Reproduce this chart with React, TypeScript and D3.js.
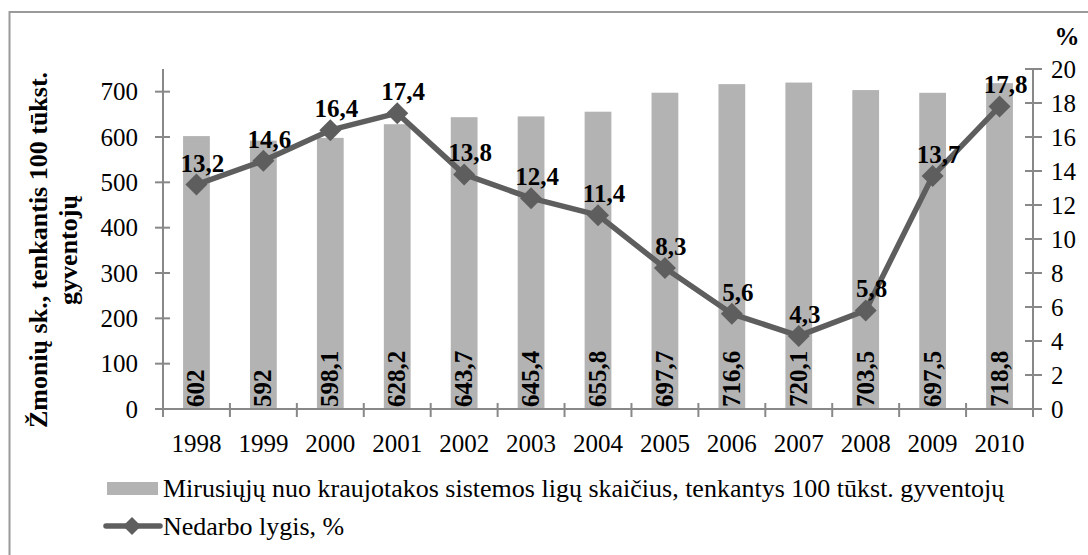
import React from "react";
import * as d3 from "d3";

const years = ["1998","1999","2000","2001","2002","2003","2004","2005","2006","2007","2008","2009","2010"];
const deaths = [602, 592, 598.1, 628.2, 643.7, 645.4, 655.8, 697.7, 716.6, 720.1, 703.5, 697.5, 718.8];
const unemployment = [13.2, 14.6, 16.4, 17.4, 13.8, 12.4, 11.4, 8.3, 5.6, 4.3, 5.8, 13.7, 17.8];
const leftTicks = [0, 100, 200, 300, 400, 500, 600, 700];
const rightTicks = [0, 2, 4, 6, 8, 10, 12, 14, 16, 18, 20];
const barLegend = "Mirusiųjų nuo kraujotakos sistemos ligų skaičius, tenkantys 100 tūkst. gyventojų";
const lineLegend = "Nedarbo lygis, %";
const titleLines = ["Žmonių sk., tenkantis 100 tūkst.", "gyventojų"];

const W = 1088, H = 555;
const X0 = 163, X1 = 1033, Y0 = 409, Y1 = 69;
const FONT = "'Liberation Serif', 'Times New Roman', serif";
const BAR = "#b3b3b3";
const LINE = "#5e5e5e";
const AXIS = "#888888";

const fmt = (v: number) => String(v).replace(".", ",");

export default function App() {
  const x = d3.scaleBand<string>().domain(years).range([X0, X1]).paddingInner(0.6).paddingOuter(0.3);
  const step = x.step();
  const cx = (y: string) => (x(y) as number) + x.bandwidth() / 2;
  const yL = d3.scaleLinear().domain([0, 750]).range([Y0, Y1]);
  const yR = d3.scaleLinear().domain([0, 20]).range([Y0, Y1]);
  const line = d3.line<number>().x((_, i) => cx(years[i])).y((d) => yR(d));
  const diamond = (px: number, py: number, r: number) =>
    `M${px},${py - r}L${px + r},${py}L${px},${py + r}L${px - r},${py}Z`;

  return (
    <svg width={W} height={H} style={{ position: "absolute", left: 0, top: 0, background: "#fff" }} fontFamily={FONT}>
      <rect x={9.5} y={12} width={1200} height={700} fill="none" stroke="#9a9a9a" strokeWidth={2} />
      {/* bars */}
      {deaths.map((d, i) => (
        <rect key={"b" + i} x={x(years[i])} y={yL(d)} width={x.bandwidth()} height={Y0 - yL(d)} fill={BAR} />
      ))}
      {/* axes */}
      <line x1={X0} x2={X1} y1={Y0} y2={Y0} stroke={AXIS} strokeWidth={2} />
      <line x1={X0} x2={X0} y1={Y1} y2={Y0 + 8} stroke={AXIS} strokeWidth={2} />
      <line x1={X1} x2={X1} y1={Y1} y2={Y0 + 8} stroke={AXIS} strokeWidth={2} />
      {years.map((_, i) => (
        <line key={"xt" + i} x1={X0 + (i + 1) * step} x2={X0 + (i + 1) * step} y1={Y0 - 6} y2={Y0 + 8} stroke={AXIS} strokeWidth={2} />
      ))}
      {leftTicks.map((t) => (
        <g key={"lt" + t}>
          <line x1={X0 - 8} x2={X0 + 7} y1={yL(t)} y2={yL(t)} stroke={AXIS} strokeWidth={2} />
          <text x={138} y={yL(t)} dy="0.34em" textAnchor="end" fontSize={25}>{t}</text>
        </g>
      ))}
      {rightTicks.map((t) => (
        <g key={"rt" + t}>
          <line x1={X1 - 8} x2={X1 + 9} y1={yR(t)} y2={yR(t)} stroke={AXIS} strokeWidth={2} />
          <text x={1051} y={yR(t)} dy="0.34em" textAnchor="start" fontSize={25}>{t}</text>
        </g>
      ))}
      {years.map((y) => (
        <text key={"yl" + y} x={cx(y)} y={452} textAnchor="middle" fontSize={25}>{y}</text>
      ))}
      <text x={1067} y={45} textAnchor="middle" fontSize={25} fontWeight="bold">%</text>
      {/* y title */}
      {titleLines.map((t, i) => (
        <text key={"tt" + i} transform={`translate(${47 + i * 30},250) rotate(-90)`} textAnchor="middle" fontSize={26} fontWeight="bold">{t}</text>
      ))}
      {/* bar labels */}
      {deaths.map((d, i) => (
        <text key={"bl" + i} transform={`translate(${cx(years[i]) + 8},407) rotate(-90)`} textAnchor="start" fontSize={25} fontWeight="bold">{fmt(d)}</text>
      ))}
      {/* line */}
      <path d={line(unemployment) as string} fill="none" stroke={LINE} strokeWidth={5.5} strokeLinejoin="round" />
      {unemployment.map((u, i) => (
        <path key={"m" + i} d={diamond(cx(years[i]), yR(u), 11)} fill={LINE} />
      ))}
      {unemployment.map((u, i) => (
        <text key={"ul" + i} x={cx(years[i]) + 6} y={yR(u) - 13} textAnchor="middle" fontSize={25} fontWeight="bold">{fmt(u)}</text>
      ))}
      {/* legend */}
      <rect x={107} y={482} width={51} height={13} fill={BAR} />
      <text x={163} y={497} fontSize={26}>{barLegend}</text>
      <line x1={106} x2={160} y1={526} y2={526} stroke={LINE} strokeWidth={5.5} strokeLinecap="round" />
      <path d={diamond(132, 526, 9)} fill={LINE} />
      <text x={163} y={535} fontSize={26}>{lineLegend}</text>
    </svg>
  );
}
